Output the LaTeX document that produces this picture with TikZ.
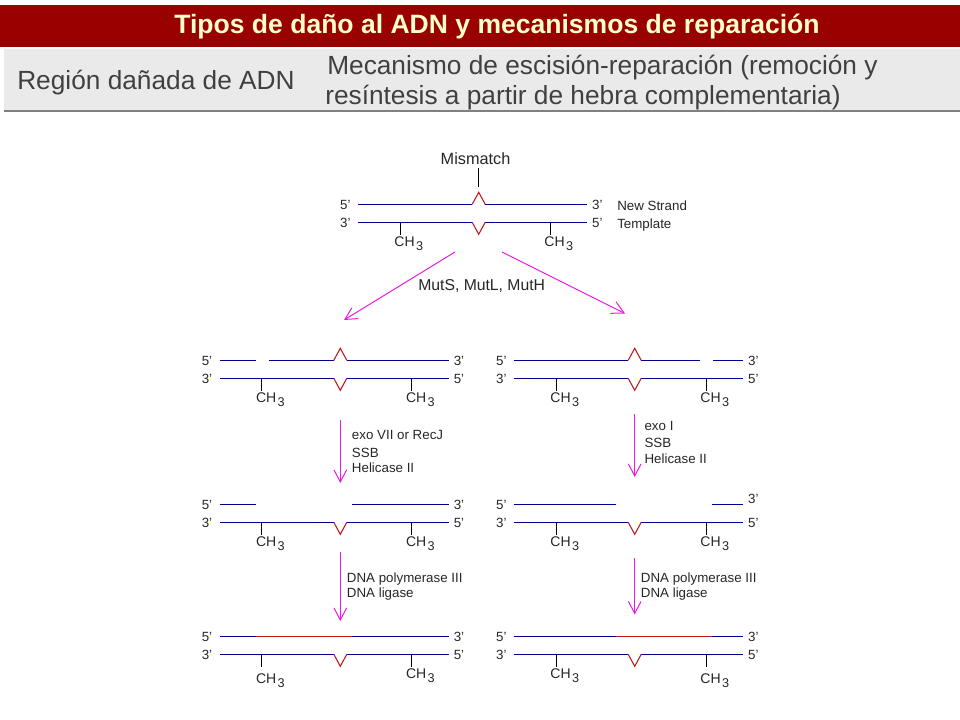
\documentclass[tikz,border=0pt]{standalone}
\usepackage{fontspec}
\setmainfont{Liberation Sans}
\usetikzlibrary{arrows.meta}
\definecolor{barred}{HTML}{990000}
\definecolor{titlecream}{HTML}{FFFFCC}
\definecolor{bandgrey}{HTML}{EAEAEA}
\definecolor{strandblue}{HTML}{000090}
\definecolor{errorred}{HTML}{C01818}
\definecolor{arrowpink}{HTML}{E81CE0}
\tikzset{
  lab/.style={inner sep=0pt,font=\fontsize{10}{12}\selectfont,text=black!85},
  endlab/.style={inner sep=0pt,font=\fontsize{10}{11}\selectfont,text=black!85},
  chlab/.style={inner sep=0pt,anchor=west,font=\fontsize{10.5}{12}\selectfont,text=black!85},
  headlab/.style={inner sep=0pt,anchor=west,font=\fontsize{19.7}{22}\selectfont,text=black!75},
  strand/.style={color=strandblue,line width=1pt},
  newstrand/.style={color=errorred,line width=1pt},
  kink/.style={color=errorred,line width=0.8pt},
  tick/.style={color=black,line width=0.75pt},
  pink/.style={-{Straight Barb[length=9pt,width=9.5pt]},color=arrowpink,line width=0.75pt}
}
\newcommand{\chtres}{CH\kern1pt\raisebox{-3pt}{\fontsize{9.5}{11}\selectfont 3}}
\begin{document}
\begin{tikzpicture}[x=0.75pt,y=-0.75pt]
\useasboundingbox (0,0) rectangle (960,720);
% header
\fill[barred] (0,5) rectangle (960,47.3);
\fill[bandgrey] (4,49) rectangle (960,110.5);
\draw[color=black!50,line width=0.8pt] (4,111) -- (960,111);
\node[inner sep=0pt,text=titlecream,font=\bfseries\fontsize{19.9}{22}\selectfont] (title) at (497,26.5) {Tipos de daño al ADN y mecanismos de reparación};
\node[headlab] (region) at (17,82.5) {Región dañada de ADN};
\node[headlab] (mech1) at (327,68) {Mecanismo de escisión-reparación (remoción y};
\node[headlab] (mech2) at (325,98) {resíntesis a partir de hebra complementaria)};
% template strand, labels and methyl groups of every duplex
\foreach \r/\cx/\rowy/\lch/\rch/\up in {a/478.7/222.3/21/21/0,b/340.3/378.3/21/21/0,c/634.7/378.3/21/21/0,d/340.3/522.3/21/21/0,e/634.7/522.3/21/21/-6,f/340.3/654.3/26/21/0,g/634.7/654.3/21/26/0}{
  \draw[strand] (\cx-120.5,\rowy) -- (\cx-6.5,\rowy);
  \draw[strand] (\cx+6.5,\rowy) -- (\cx+108.5,\rowy);
  \draw[kink] (\cx-6.5,\rowy) -- (\cx,\rowy+12) -- (\cx+6.5,\rowy);
  \coordinate (tickl\r) at (\cx-78.5,\rowy);
  \coordinate (tickr\r) at (\cx+71.5,\rowy);
  \draw[tick] (tickl\r) -- ++(0,12.5);
  \draw[tick] (tickr\r) -- ++(0,12.5);
  \node[chlab] (chl\r) at (\cx-84.5,\rowy+\lch) {\chtres};
  \node[chlab] (chr\r) at (\cx+65.5,\rowy+\rch) {\chtres};
  \node[endlab] (fivel\r) at (\cx-133.3,\rowy-17) {5'};
  \node[endlab] (threel\r) at (\cx-133.3,\rowy+1) {3'};
  \node[endlab] (threer\r) at (\cx+118.7,\rowy-17+\up) {3'};
  \node[endlab] (fiver\r) at (\cx+118.7,\rowy+1) {5'};
}
% mismatch duplex
\draw[strand] (358.2,204.3) -- (472.2,204.3);
\draw[strand] (485.2,204.3) -- (587.2,204.3);
\draw[kink] (472.2,204.3) -- (478.7,192.3) -- (485.2,204.3);
\node[lab,font=\fontsize{12.2}{14}\selectfont] (mismatch) at (475.5,159) {Mismatch};
\coordinate (mistop) at (478.3,168);
\coordinate (misbot) at (478.3,187);
\draw[tick] (mistop) -- (misbot);
\node[lab,anchor=west] (newstrand) at (617,205.7) {New Strand};
\node[lab,anchor=west] (template) at (617,225) {Template};
% first cut, both sides
\coordinate (splitl) at (455,252);
\coordinate (splitr) at (502,252);
\coordinate (endl) at (344,320);
\coordinate (endr) at (625,313.5);
\draw[pink] (splitl) -- (endl);
\draw[pink] (splitr) -- (endr);
\node[lab,font=\fontsize{11.8}{14}\selectfont] (muts) at (481.7,286) {MutS, MutL, MutH};
\draw[strand] (219.8,360.3) -- (256,360.3);
\draw[strand] (269,360.3) -- (333.8,360.3);
\draw[strand] (346.8,360.3) -- (448.8,360.3);
\draw[kink] (333.8,360.3) -- (340.3,348.3) -- (346.8,360.3);
\draw[strand] (514.2,360.3) -- (628.2,360.3);
\draw[strand] (641.2,360.3) -- (700,360.3);
\draw[strand] (713,360.3) -- (743.2,360.3);
\draw[kink] (628.2,360.3) -- (634.7,348.3) -- (641.2,360.3);
% excision
\coordinate (exolt) at (340.3,420);
\coordinate (exolb) at (340.3,483);
\coordinate (exort) at (634.7,414);
\coordinate (exorb) at (634.7,477);
\draw[pink] (exolt) -- (exolb);
\draw[pink] (exort) -- (exorb);
\node[lab,anchor=west] (exovii) at (351.7,435) {exo VII or RecJ};
\node[lab,anchor=west] (ssbl) at (351.7,452.7) {SSB};
\node[lab,anchor=west] (helil) at (351.7,467.7) {Helicase II};
\node[lab,anchor=west] (exoi) at (644.3,425.7) {exo I};
\node[lab,anchor=west] (ssbr) at (644.3,443.3) {SSB};
\node[lab,anchor=west] (helir) at (644.3,458.7) {Helicase II};
\draw[strand] (219.8,504.3) -- (256,504.3);
\draw[strand] (352,504.3) -- (448.8,504.3);
\draw[strand] (514.2,504.3) -- (616,504.3);
\draw[strand] (712,504.3) -- (743.2,504.3);
% resynthesis
\coordinate (pollt) at (340.3,552);
\coordinate (pollb) at (340.3,621);
\coordinate (polrt) at (634.7,558);
\coordinate (polrb) at (634.7,614.5);
\draw[pink] (pollt) -- (pollb);
\draw[pink] (polrt) -- (polrb);
\node[lab,anchor=west] (poll) at (346.7,578.7) {DNA polymerase III};
\node[lab,anchor=west] (ligl) at (346.7,593.7) {DNA ligase};
\node[lab,anchor=west] (polr) at (640.7,578.7) {DNA polymerase III};
\node[lab,anchor=west] (ligr) at (640.7,593.7) {DNA ligase};
\draw[strand] (219.8,636.3) -- (256,636.3);
\draw[newstrand] (256,636.3) -- (352,636.3);
\draw[strand] (352,636.3) -- (448.8,636.3);
\draw[strand] (514.2,636.3) -- (616,636.3);
\draw[newstrand] (616,636.3) -- (712,636.3);
\draw[strand] (712,636.3) -- (743.2,636.3);
\end{tikzpicture}
\end{document}
